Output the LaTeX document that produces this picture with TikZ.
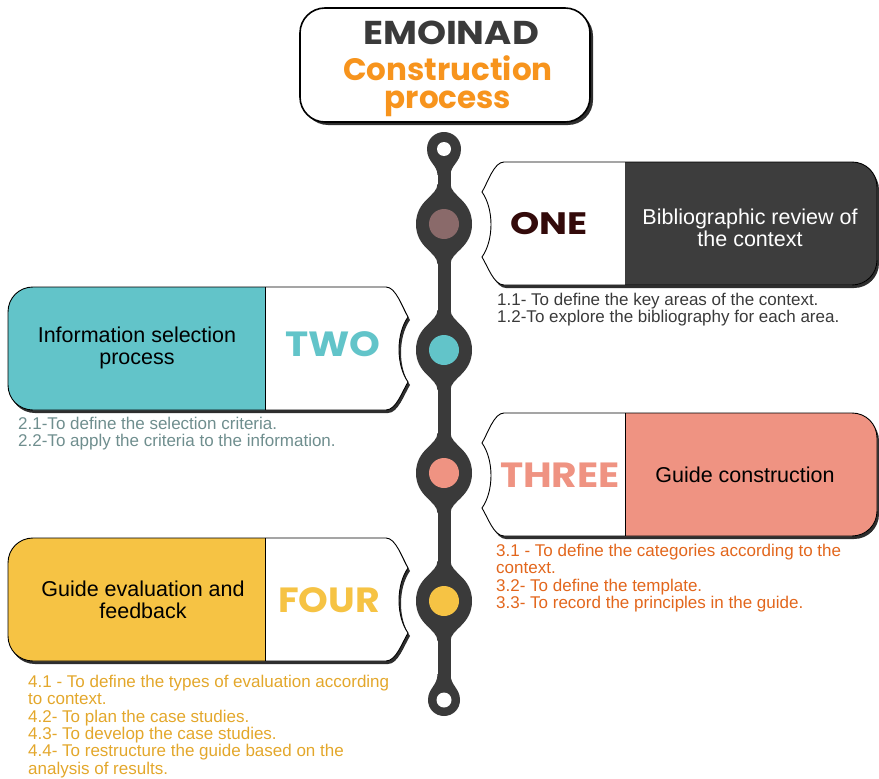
\documentclass[tikz,border=0pt]{standalone}
\usepackage{fontspec}
\setmainfont{Liberation Sans}
\newfontfamily\popfont{Poppins}
\definecolor{darkline}{HTML}{3A3A3A}
\definecolor{darkbox}{HTML}{3D3D3D}
\definecolor{onetxt}{HTML}{330A0A}
\definecolor{mauve}{HTML}{8A6A6A}
\definecolor{teal}{HTML}{62C4C9}
\definecolor{salmon}{HTML}{EF9382}
\definecolor{yell}{HTML}{F6C344}
\definecolor{orng}{HTML}{F7941D}
\definecolor{listtwo}{HTML}{6F8E8E}
\definecolor{listthree}{HTML}{E2661C}
\definecolor{listfour}{HTML}{E3A72B}
\definecolor{shadowc}{HTML}{2E2E2E}
\newcommand\rshape{(560,0) -- (852,0) .. controls (866,0) and (877,11) .. (877,25) -- (877,98) .. controls (877,112) and (866,123) .. (852,123) -- (504,123) .. controls (494,123) and (488,105) .. (482,95) .. controls (494,78) and (494,47) .. (482,30) .. controls (488,20) and (494,0) .. (504,0) -- cycle}
\newcommand\lshape{(300,0) -- (386,0) .. controls (396,0) and (402,20) .. (408,30) .. controls (396,47) and (396,78) .. (408,95) .. controls (402,105) and (396,123) .. (386,123) -- (33,123) .. controls (19,123) and (8,112) .. (8,98) -- (8,25) .. controls (8,11) and (19,0) .. (33,0) -- cycle}
\tikzset{
  numtxt/.style={font=\popfont\bfseries\fontsize{35}{35}\selectfont, inner sep=0pt},
  bodytxt/.style={font=\fontsize{21.5}{22}\selectfont, align=center, inner sep=0pt},
  listtxt/.style={font=\fontsize{17}{17.3}\selectfont, align=left, anchor=north west, inner sep=0pt},
  titletxt/.style={font=\popfont\bfseries\fontsize{31}{31}\selectfont, inner sep=0pt, anchor=base},
  boxborder/.style={draw=black, line width=0.9pt},
}
\newcommand\widen[2]{\scalebox{#1}[1]{#2}}
\newcommand\flare[1]{%
  \fill[darkline] (437.5,#1-40) .. controls (437.5,#1-28) and (416,#1-24) .. (416,#1) .. controls (416,#1+24) and (437.5,#1+28) .. (437.5,#1+40) -- (450.5,#1+40) .. controls (450.5,#1+28) and (472,#1+24) .. (472,#1) .. controls (472,#1-24) and (450.5,#1-28) .. (450.5,#1-40) -- cycle;}
\begin{document}
\begin{tikzpicture}[x=1pt,y=-1pt]
\useasboundingbox (0,0) rectangle (879,779);
% ---------- title ----------
\fill[shadowc, rounded corners=25] (303,11) rectangle (593,125);
\draw[fill=white, line width=1.6pt, rounded corners=25] (300,8) rectangle (590,122);
\node[titletxt, text=darkline, font=\popfont\bfseries\fontsize{33}{33}\selectfont] (t1) at (451,45) {\widen{1.12}{EMOINAD}};
\node[titletxt, text=orng] (t2) at (448,80) {Construction};
\node[titletxt, text=orng] (t3) at (448,108) {process};
% ---------- timeline ----------
\draw[darkline, line width=13pt] (444,149) -- (444,700);
\fill[darkline] (437.5,175) .. controls (437.5,165) and (427,162) .. (427,149) .. controls (427,139) and (435,132) .. (444,132) .. controls (453,132) and (461,139) .. (461,149) .. controls (461,162) and (450.5,165) .. (450.5,175) -- cycle;
\fill[white] (444,149) circle[radius=7];
\fill[darkline] (437.5,674) .. controls (437.5,686) and (428,688) .. (428,700) .. controls (428,709) and (435,716) .. (444,716) .. controls (453,716) and (460,709) .. (460,700) .. controls (460,688) and (450.5,686) .. (450.5,674) -- cycle;
\fill[white] (444,700) circle[radius=7.5];
\flare{224}\flare{350}\flare{473}\flare{601}
\fill[mauve] (444,224) circle[radius=15];
\fill[teal] (444,350) circle[radius=15];
\fill[salmon] (444,473) circle[radius=15];
\fill[yell] (444,601) circle[radius=15];
% ---------- ONE ----------
\begin{scope}[shift={(0,162)}]
  \fill[shadowc, shift={(2,3)}] \rshape;
  \fill[white] \rshape;
  \begin{scope}
    \clip \rshape;
    \fill[darkbox] (625,-5) rectangle (880,130);
  \end{scope}
  \draw[boxborder] \rshape;
  \node[numtxt, text=onetxt, font=\popfont\bfseries\fontsize{31}{31}\selectfont] (one) at (549,62) {\widen{1.2}{ONE}};
  \node[bodytxt, text=white] (onet) at (750,66) {Bibliographic review of\\the context};
\end{scope}
\node[listtxt, text=darkline] (onel) at (497,293) {1.1- To define the key areas of the context.\\1.2-To explore the bibliography for each area.};
% ---------- TWO ----------
\begin{scope}[shift={(0,287)}]
  \fill[shadowc, shift={(2,3)}] \lshape;
  \fill[white] \lshape;
  \begin{scope}
    \clip \lshape;
    \fill[teal] (0,-5) rectangle (265,130);
  \end{scope}
  \draw[boxborder] (265,0) -- (265,123);
  \draw[boxborder] \lshape;
  \node[numtxt, text=teal] (two) at (333,57) {\widen{1.12}{TWO}};
  \node[bodytxt, text=black] (twot) at (137,61) {Information selection\\process};
\end{scope}
\node[listtxt, text=listtwo] (twol) at (18,417) {2.1-To define the selection criteria.\\2.2-To apply the criteria to the information.};
% ---------- THREE ----------
\begin{scope}[shift={(0,413)}]
  \fill[shadowc, shift={(2,3)}] \rshape;
  \fill[white] \rshape;
  \begin{scope}
    \clip \rshape;
    \fill[salmon] (625,-5) rectangle (880,130);
  \end{scope}
  \draw[boxborder] (625,0) -- (625,123);
  \draw[boxborder] \rshape;
  \node[numtxt, text=salmon] (three) at (560,62) {\widen{1.12}{THREE}};
  \node[bodytxt, text=black] (threet) at (745,62) {Guide construction};
\end{scope}
\node[listtxt, text=listthree] (threel) at (496,544) {3.1 - To define the categories according to the\\context.\\3.2- To define the template.\\3.3- To record the principles in the guide.};
% ---------- FOUR ----------
\begin{scope}[shift={(0,538)}]
  \fill[shadowc, shift={(2,3)}] \lshape;
  \fill[white] \lshape;
  \begin{scope}
    \clip \lshape;
    \fill[yell] (0,-5) rectangle (265,130);
  \end{scope}
  \draw[boxborder] (265,0) -- (265,123);
  \draw[boxborder] \lshape;
  \node[numtxt, text=yell] (four) at (329,62) {\widen{1.08}{FOUR}};
  \node[bodytxt, text=black] (fourt) at (143,62) {Guide evaluation and\\feedback};
\end{scope}
\node[listtxt, text=listfour] (fourl) at (28,675) {4.1 - To define the types of evaluation according\\to context.\\4.2- To plan the case studies.\\4.3- To develop the case studies.\\4.4- To restructure the guide based on the\\analysis of results.};
\end{tikzpicture}
\end{document}
